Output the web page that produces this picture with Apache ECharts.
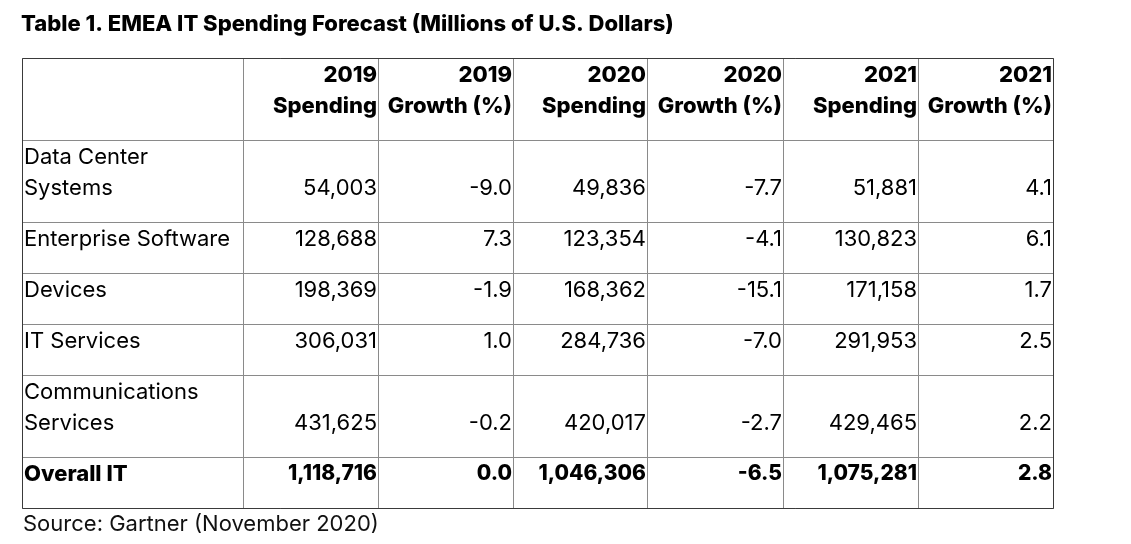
<!DOCTYPE html>
<html>
<head>
<meta charset="utf-8">
<script src="https://cdn.jsdelivr.net/npm/echarts@6/dist/echarts.min.js"></script>
<style>html,body{margin:0;padding:0;background:#fff}#c{width:1131px;height:544px}</style>
</head>
<body>
<div id="c"></div>
<script>
// ---- data ----
const titleText = 'Table 1. EMEA IT Spending Forecast (Millions of U.S. Dollars)';
const sourceText = 'Source: Gartner (November 2020)';
const categories = ['Data Center\nSystems', 'Enterprise Software', 'Devices', 'IT Services', 'Communications\nServices', 'Overall IT'];
const columnHeaders = ['2019\nSpending', '2019\nGrowth (%)', '2020\nSpending', '2020\nGrowth (%)', '2021\nSpending', '2021\nGrowth (%)'];
const spending2019 = [54003, 128688, 198369, 306031, 431625, 1118716];
const growth2019 = [-9.0, 7.3, -1.9, 1.0, -0.2, 0.0];
const spending2020 = [49836, 123354, 168362, 284736, 420017, 1046306];
const growth2020 = [-7.7, -4.1, -15.1, -7.0, -2.7, -6.5];
const spending2021 = [51881, 130823, 171158, 291953, 429465, 1075281];
const growth2021 = [4.1, 6.1, 1.7, 2.5, 2.2, 2.8];

// ---- layout (axis units) ----
const colEdges = [0, 221, 356, 491, 625, 761, 896, 1031];
const rowEdges = [0, 82, 164, 215, 266, 317, 399, 450];

const columns = [spending2019, growth2019, spending2020, growth2020, spending2021, growth2021];
const fmt = (c, v) => (c % 2 === 0) ? v.toLocaleString('en-US') : v.toFixed(1);

// build cell table: [row, col, text, bold]
const cells = [];
cells.push([0, 0, '', 1]);
columnHeaders.forEach((h, i) => cells.push([0, i + 1, h, 1]));
categories.forEach((cat, r) => {
  const bold = r === categories.length - 1 ? 1 : 0;
  cells.push([r + 1, 0, cat, bold]);
  columns.forEach((col, c) => cells.push([r + 1, c + 1, fmt(c, col[r]), bold]));
});

const FONT = 'Inter, "Noto Sans", sans-serif';

const chart = echarts.init(document.getElementById('c'));
chart.setOption({
  backgroundColor: '#fff',
  animation: false,
  title: [
    { text: titleText, left: 21, top: 13, padding: 0, textStyle: { fontFamily: FONT, fontSize: 22, fontWeight: 800, color: '#000' } },
    { text: sourceText, left: 23, top: 513, padding: 0, textStyle: { fontFamily: FONT, fontSize: 22, fontWeight: 'normal', color: '#111' } }
  ],
  grid: { left: 22, top: 58, width: 1031, height: 450 },
  xAxis: { type: 'value', min: 0, max: 1031, show: false },
  yAxis: { type: 'value', min: 0, max: 450, inverse: true, show: false },
  series: [{
    type: 'custom',
    coordinateSystem: 'cartesian2d',
    data: cells,
    encode: { x: 1, y: 0 },
    clip: false,
    renderItem: function (params, api) {
      const r = api.value(0), c = api.value(1);
      const item = cells[params.dataIndex];
      const p0 = api.coord([colEdges[c], rowEdges[r]]);
      const p1 = api.coord([colEdges[c + 1], rowEdges[r + 1]]);
      const children = [{
        type: 'rect',
        shape: { x: p0[0] + 0.5, y: p0[1] + 0.5, width: p1[0] - p0[0], height: p1[1] - p0[1] },
        style: { fill: 'none', stroke: '#8a8a8a', lineWidth: 1 }
      }];
      const size = item[3] ? ((r === 0 || c === 0) ? 22 : 21) : 22;
      children.push({
        type: 'text',
        style: {
          text: item[2],
          x: c === 0 ? p0[0] + 2 : p1[0] - 1,
          y: p1[1] - 18.5,
          align: c === 0 ? 'left' : 'right',
          verticalAlign: 'bottom',
          lineHeight: 31,
          fontFamily: FONT,
          fontSize: size,
          fontWeight: item[3] ? 800 : 'normal',
          fill: '#000'
        },
        z2: 10
      });
      if (params.dataIndex === 0) {
        const a = api.coord([colEdges[0], rowEdges[0]]);
        const b = api.coord([colEdges[colEdges.length - 1], rowEdges[rowEdges.length - 1]]);
        children.push({
          type: 'rect',
          shape: { x: a[0] + 0.5, y: a[1] + 0.5, width: b[0] - a[0], height: b[1] - a[1] },
          style: { fill: 'none', stroke: '#3a3a3a', lineWidth: 1 },
          z2: 20
        });
      }
      return { type: 'group', children: children };
    }
  }]
});
</script>
</body>
</html>
